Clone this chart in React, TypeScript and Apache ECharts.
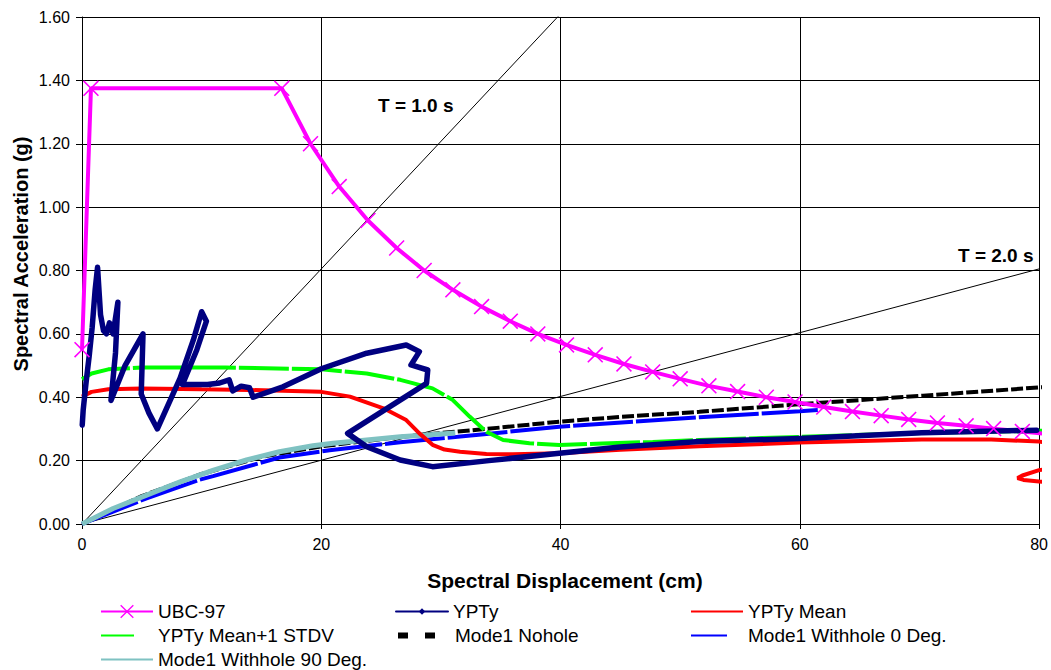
import React, { useEffect, useRef } from 'react';
import * as echarts from 'echarts';

const xTicks = [0, 20, 40, 60, 80];
const yTicks = [0, 0.2, 0.4, 0.6, 0.8, 1.0, 1.2, 1.4, 1.6];

const seriesNames = [
  'UBC-97',
  'YPTy',
  'YPTy Mean',
  'YPTy Mean+1 STDV',
  'Mode1 Nohole',
  'Mode1 Withhole 0 Deg.',
  'Mode1 Withhole 90 Deg.',
];

const ubc97: number[][] = [
  [0, 0.55], [0.75, 1.375], [16.7, 1.375], [19.1, 1.2], [21.5, 1.065], [23.9, 0.958],
  [26.3, 0.871], [28.6, 0.8], [31.0, 0.739], [33.4, 0.686], [35.8, 0.64], [38.1, 0.6],
  [40.5, 0.565], [42.9, 0.534], [45.3, 0.505], [47.7, 0.48], [50.0, 0.458], [52.4, 0.436],
  [54.8, 0.418], [57.2, 0.4], [59.6, 0.385], [62.0, 0.369], [64.4, 0.355], [66.8, 0.342],
  [69.1, 0.33], [71.5, 0.319], [73.9, 0.31], [76.2, 0.301], [78.6, 0.292], [81.0, 0.283],
];

const ypty: number[][] = [
  [0.02, 0.312], [0.1, 0.36], [0.35, 0.45], [0.6, 0.53], [0.85, 0.62], [1.1, 0.74], [1.3, 0.81],
  [1.45, 0.72], [1.55, 0.66], [1.8, 0.61], [2.05, 0.6], [2.3, 0.635], [2.6, 0.6], [3.0, 0.7],
  [2.8, 0.54], [2.42, 0.39], [3.6, 0.5], [5.1, 0.6], [4.95, 0.41], [5.6, 0.35], [6.3, 0.3],
  [8.2, 0.46], [9.3, 0.58], [10.0, 0.67], [10.4, 0.64], [9.6, 0.55], [8.4, 0.44], [10.5, 0.44],
  [11.5, 0.445], [12.3, 0.455], [12.6, 0.42], [13.3, 0.435], [14.0, 0.43], [14.3, 0.4],
  [16.8, 0.433], [20.0, 0.49], [23.8, 0.539], [27.1, 0.565], [28.2, 0.544], [27.5, 0.502],
  [28.9, 0.486], [28.8, 0.444], [22.2, 0.286], [23.8, 0.244], [26.6, 0.202], [29.3, 0.181],
  [34.0, 0.2], [39.9, 0.223], [45.0, 0.243], [51.6, 0.26], [60.0, 0.27], [70.2, 0.288], [79.8, 0.296],
];

const yptyMean: number[][] = [
  [0, 0.402], [0.8, 0.417], [2.2, 0.425], [5, 0.428], [10, 0.425], [14, 0.423], [20, 0.417],
  [22.4, 0.402], [25.2, 0.365], [27.1, 0.328], [28.2, 0.286], [29.3, 0.25], [30.3, 0.235],
  [31.6, 0.228], [33.8, 0.221], [36, 0.22], [39.9, 0.223], [45, 0.234], [51.6, 0.245],
  [60, 0.257], [70.2, 0.267], [76, 0.267], [80, 0.26], [84, 0.24], [86, 0.2], [82, 0.178],
  [80, 0.17], [78.6, 0.153], [78.2, 0.145], [78.7, 0.139], [80, 0.134], [84, 0.128],
];

const yptyMeanStdv: number[][] = [
  [0, 0.457], [0.8, 0.475], [2.2, 0.488], [5, 0.494], [12, 0.494], [20, 0.488], [23.8, 0.475],
  [26.6, 0.455], [29.3, 0.428], [31.0, 0.391], [32.4, 0.339], [33.8, 0.291], [35.2, 0.265],
  [37.4, 0.255], [39.9, 0.249], [43.5, 0.254], [47.7, 0.259], [51.6, 0.265], [60, 0.275],
  [70, 0.287], [80, 0.294], [82, 0.296],
];

const mode1Nohole: number[][] = [
  [0, 0], [5, 0.088], [10, 0.158], [15, 0.212], [20, 0.245], [25, 0.268], [28.2, 0.281],
  [33.8, 0.3], [39.9, 0.323], [45, 0.338], [51.6, 0.354], [60, 0.378], [70.3, 0.405],
  [80, 0.431], [82, 0.435],
];

const mode1Withhole0: number[][] = [
  [0, 0], [2.6, 0.039], [5.4, 0.081], [9.85, 0.14], [10.96, 0.151], [16.5, 0.21], [20.7, 0.233],
  [26.6, 0.258], [31.4, 0.275], [39.9, 0.307], [51.6, 0.337], [60, 0.356], [61.5, 0.36],
];

const mode1Withhole90: number[][] = [
  [0, 0], [2.6, 0.049], [5.4, 0.091], [8.2, 0.133], [11, 0.17], [13.75, 0.202], [16.5, 0.228],
  [19.3, 0.247], [21, 0.255], [26.6, 0.275], [31.2, 0.287],
];

const periodLine1: number[][] = [[0, 0], [40, 1.61]];
const periodLine2: number[][] = [[0, 0], [80, 0.805]];

const XSYM = 'path://M0,0.7L0.7,0L5,4.3L9.3,0L10,0.7L5.7,5L10,9.3L9.3,10L5,5.7L0.7,10L0,9.3L4.3,5Z';
const FONT = 'Liberation Sans, Arial, sans-serif';

function legendAt(name: string, left: number, top: number, extra: any = {}) {
  return {
    data: [{ name, ...(extra.item || {}) }],
    left,
    top,
    orient: 'horizontal',
    padding: 0,
    itemWidth: 52,
    itemHeight: extra.itemHeight ?? 12,
    itemGap: 0,
    selectedMode: false,
    textStyle: { fontFamily: FONT, fontSize: 19, color: '#000', padding: [0, 0, 0, 0] },
    ...(extra.lineStyle ? { lineStyle: extra.lineStyle } : {}),
  };
}

const noSymbolItem = { itemStyle: { opacity: 0 } };

export default function App() {
  const ref = useRef<HTMLDivElement>(null);
  useEffect(() => {
    const chart = echarts.init(ref.current!, null, { renderer: 'svg' });
    const option: any = {
      animation: false,
      backgroundColor: '#fff',
      grid: { left: 82, right: 11, top: 17, bottom: 146 },
      xAxis: {
        type: 'value',
        min: xTicks[0],
        max: xTicks[xTicks.length - 1],
        interval: 20,
        axisLine: { show: true, onZero: false, lineStyle: { color: '#000', width: 1 } },
        axisTick: { show: true, length: 5, lineStyle: { color: '#000' } },
        axisLabel: { color: '#000', fontFamily: FONT, fontSize: 16, margin: 12 },
        splitLine: { show: true, lineStyle: { color: '#000', width: 1 } },
      },
      yAxis: {
        type: 'value',
        min: yTicks[0],
        max: yTicks[yTicks.length - 1],
        interval: 0.2,
        axisLine: { show: true, onZero: false, lineStyle: { color: '#000', width: 1 } },
        axisTick: { show: true, length: 6, lineStyle: { color: '#000' } },
        axisLabel: {
          color: '#000', fontFamily: FONT, fontSize: 16, margin: 12,
          formatter: (v: number) => v.toFixed(2),
        },
        splitLine: { show: true, lineStyle: { color: '#000', width: 1 } },
      },
      legend: [
        legendAt(seriesNames[0], 100, 602, { itemHeight: 17 }),
        legendAt(seriesNames[1], 395, 602, { itemHeight: 8 }),
        legendAt(seriesNames[2], 690, 602, { item: noSymbolItem }),
        legendAt(seriesNames[3], 100, 626, { item: noSymbolItem, lineStyle: { type: [33, 19] } }),
        legendAt(seriesNames[4], 395, 626, { item: noSymbolItem, lineStyle: { type: [10, 17], width: 6 } }),
        legendAt(seriesNames[5], 690, 626, { item: noSymbolItem, lineStyle: { type: [36, 18] } }),
        legendAt(seriesNames[6], 100, 650, { item: noSymbolItem }),
      ],
      graphic: [
        {
          type: 'text', x: 378, y: 105, silent: true,
          style: { text: 'T = 1.0 s', font: `bold 19px ${FONT}`, fill: '#000', align: 'left', verticalAlign: 'middle' },
        },
        {
          type: 'text', x: 958, y: 255, silent: true,
          style: { text: 'T = 2.0 s', font: `bold 19px ${FONT}`, fill: '#000', align: 'left', verticalAlign: 'middle' },
        },
        {
          type: 'text', x: 565, y: 580, silent: true,
          style: {
            text: 'Spectral Displacement (cm)', font: `bold 21px ${FONT}`, fill: '#000',
            align: 'center', verticalAlign: 'middle',
          },
        },
        {
          type: 'text', x: 21, y: 254, rotation: Math.PI / 2, silent: true,
          style: {
            text: 'Spectral Acceleration (g)', font: `bold 20px ${FONT}`, fill: '#000',
            align: 'center', verticalAlign: 'middle',
          },
        },
      ],
      series: [
        {
          name: 'T1', type: 'line', data: periodLine1, symbol: 'none', clip: true,
          lineStyle: { color: '#000', width: 1 }, silent: true,
        },
        {
          name: 'T2', type: 'line', data: periodLine2, symbol: 'none', clip: true,
          lineStyle: { color: '#000', width: 1 }, silent: true,
        },
        {
          name: seriesNames[4], type: 'line', data: mode1Nohole, symbol: 'none', clip: true,
          color: '#000', lineStyle: { color: '#000', width: 4, type: [12, 3] },
        },
        {
          name: seriesNames[5], type: 'line', data: mode1Withhole0, symbol: 'none', clip: true,
          color: '#0000FF', lineStyle: { color: '#0000FF', width: 4, type: [60, 3] },
        },
        {
          name: seriesNames[6], type: 'line', data: mode1Withhole90, symbol: 'none', clip: true,
          color: '#7FC2C2', lineStyle: { color: '#7FC2C2', width: 5 },
        },
        {
          name: seriesNames[2], type: 'line', data: yptyMean, symbol: 'none', clip: true,
          color: '#FF0000', lineStyle: { color: '#FF0000', width: 4 },
        },
        {
          name: seriesNames[3], type: 'line', data: yptyMeanStdv, symbol: 'none', clip: true,
          color: '#00FF00', lineStyle: { color: '#00FF00', width: 4, type: [50, 3] },
        },
        {
          name: seriesNames[0], type: 'line', data: ubc97, clip: true,
          symbol: XSYM, symbolSize: 16, showSymbol: true,
          color: '#FF00FF',
          itemStyle: { color: '#FF00FF' },
          lineStyle: { color: '#FF00FF', width: 4 },
        },
        {
          name: seriesNames[1], type: 'line', data: ypty, clip: true,
          symbol: 'diamond', symbolSize: 6, showSymbol: false,
          color: '#000080',
          itemStyle: { color: '#000080' },
          lineStyle: { color: '#000080', width: 5.5, join: 'round', cap: 'round' },
        },
      ],
    };
    chart.setOption(option);
    return () => chart.dispose();
  }, []);
  return (
    <div
      ref={ref}
      style={{ position: 'absolute', left: 0, top: 0, width: 1051, height: 670 }}
    />
  );
}
